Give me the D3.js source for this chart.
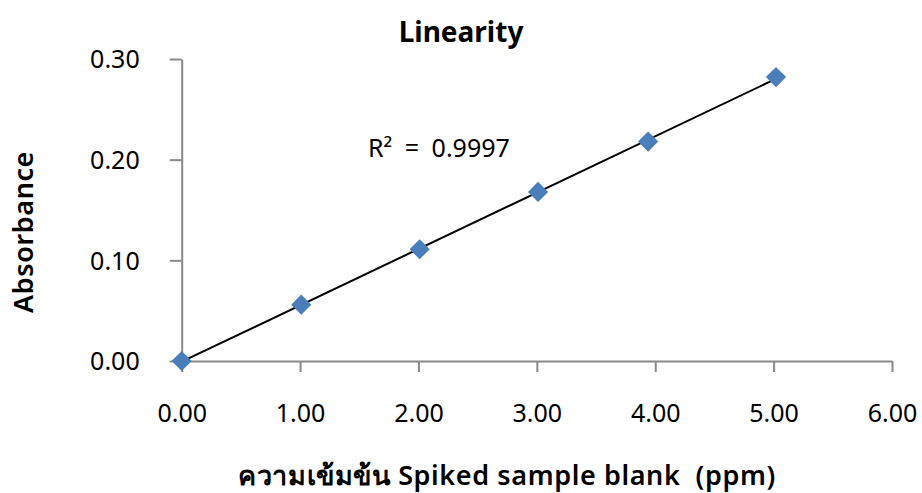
<!DOCTYPE html>
<html>
<head>
<meta charset="utf-8">
<script src="https://cdn.jsdelivr.net/npm/d3@7"></script>
<style>
  body { margin: 0; background: #fff; }
  text { font-family: "Noto Sans", "Open Sans", sans-serif; fill: #000; }
</style>
</head>
<body>
<script>
// data
const concentration = [0, 1.01, 2.01, 3.01, 3.94, 5.02];
const absorbance = [0, 0.056, 0.111, 0.168, 0.218, 0.282];
const xTicks = [0, 1, 2, 3, 4, 5, 6];
const yTicks = [0, 0.1, 0.2, 0.3];
const r2Label = "R² = 0.9997";

const w = 922, h = 493;

const svg = d3.select("body")
    .append("svg")
    .attr("width", w)
    .attr("height", h);

const x = d3.scaleLinear().domain([0, 6]).range([181.7, 892]);
const y = d3.scaleLinear().domain([0, 0.3]).range([361, 59]);

// axes
const xAxis = d3.axisBottom(x).tickValues(xTicks).tickSize(11).tickSizeOuter(0)
    .tickFormat(d3.format(".2f"));
const yAxis = d3.axisLeft(y).tickValues(yTicks).tickSize(12).tickSizeOuter(0)
    .tickFormat(d3.format(".2f"));

const gx = svg.append("g").attr("transform", `translate(0,${y(0)})`).call(xAxis);
const gy = svg.append("g").attr("transform", `translate(${x(0)},0)`).call(yAxis);

[gx, gy].forEach(g => {
    g.select(".domain").attr("stroke", "#898989").attr("stroke-width", 2);
    g.selectAll(".tick line").attr("stroke", "#898989").attr("stroke-width", 2);
    g.selectAll(".tick text")
        .style("font-family", "'Noto Sans', sans-serif")
        .attr("font-size", 25)
        .attr("fill", "#111");
});
gx.selectAll(".tick text").attr("y", 0).attr("dy", 61);
gy.selectAll(".tick text").attr("x", -42).attr("dy", "0.35em");

// linear trendline (least squares)
const n = concentration.length;
const mx = d3.mean(concentration), my = d3.mean(absorbance);
let sxy = 0, sxx = 0;
for (let i = 0; i < n; i++) {
    sxy += (concentration[i] - mx) * (absorbance[i] - my);
    sxx += (concentration[i] - mx) ** 2;
}
const slope = sxy / sxx, intercept = my - slope * mx;
const x0 = d3.min(concentration), x1 = d3.max(concentration);

svg.append("line")
    .attr("x1", x(x0)).attr("y1", y(intercept + slope * x0))
    .attr("x2", x(x1)).attr("y2", y(intercept + slope * x1))
    .attr("stroke", "#000")
    .attr("stroke-width", 2);

// markers
svg.selectAll("path.pt")
    .data(concentration)
    .enter()
    .append("path")
    .attr("class", "pt")
    .attr("d", d3.symbol().type(d3.symbolDiamond2).size(260))
    .attr("transform", (d, i) => `translate(${x(d)},${y(absorbance[i])})`)
    .attr("fill", "#4a7ebb");

// trendline label
svg.append("text")
    .attr("x", 368).attr("y", 157)
    .attr("font-size", 25)
    .attr("word-spacing", 6)
    .attr("fill", "#111")
    .text(r2Label);

// title
svg.append("text")
    .attr("x", 461).attr("y", 42)
    .attr("text-anchor", "middle")
    .attr("font-size", 28)
    .attr("font-weight", "bold")
    .text("Linearity");

// y label
svg.append("text")
    .attr("transform", "translate(33,232) rotate(-90)")
    .attr("text-anchor", "middle")
    .attr("font-size", 27)
    .attr("font-weight", 600)
    .attr("letter-spacing", 0.6)
    .text("Absorbance");

// x label
svg.append("text")
    .attr("x", 507).attr("y", 485)
    .attr("text-anchor", "middle")
    .attr("font-size", 27)
    .attr("font-weight", 600)
    .attr("letter-spacing", 0.6)
    .attr("xml:space", "preserve")
    .text("ความเข้มข้น Spiked sample blank  (ppm)");
</script>
</body>
</html>
